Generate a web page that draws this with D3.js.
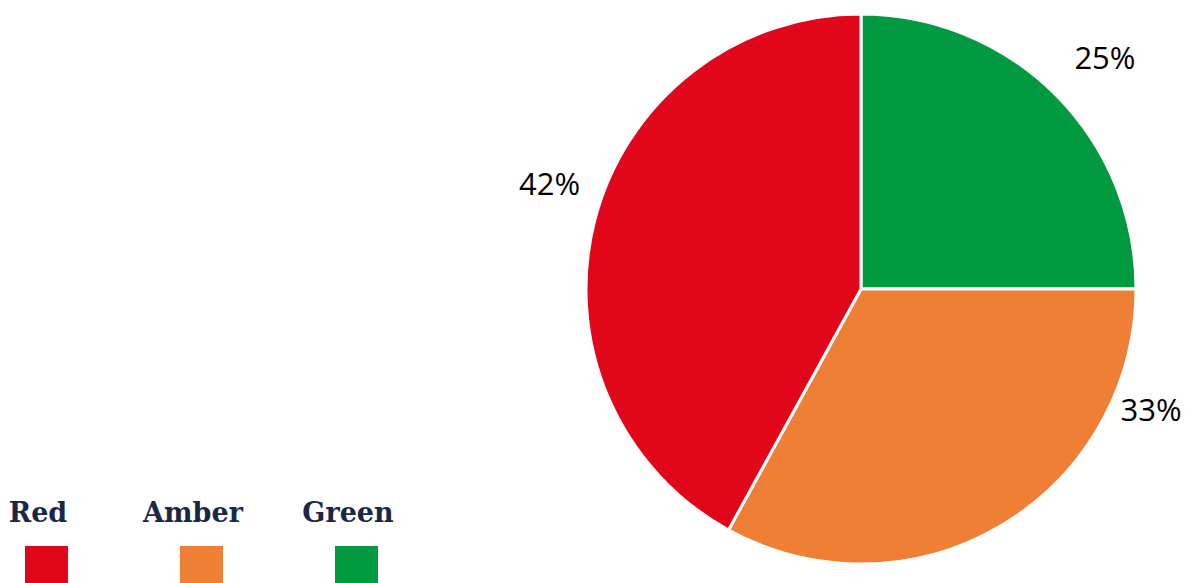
<!DOCTYPE html>
<html>
<head>
<meta charset="utf-8">
<script src="https://cdn.jsdelivr.net/npm/d3@7"></script>
<style>
  body { margin: 0; background: #fff; }
</style>
</head>
<body>
<svg width="1185" height="583"></svg>
<script>
const categories = ["Green", "Amber", "Red"];
const values = [25, 33, 42];
const legendOrder = ["Red", "Amber", "Green"];
const colors = { Red: "#e2061a", Amber: "#ee7f34", Green: "#029a40" };

const svg = d3.select("svg"),
    cx = 861, cy = 289, radius = 275;

const data = categories.map((c, i) => ({ name: c, value: values[i] }));

const pie = d3.pie().sort(null).value(d => d.value);
const arc = d3.arc().innerRadius(0).outerRadius(radius);

const g = svg.append("g").attr("transform", `translate(${cx},${cy})`);
const arcs = pie(data);

g.selectAll("path")
    .data(arcs)
    .enter()
    .append("path")
    .attr("d", arc)
    .attr("fill", d => colors[d.data.name])
    .attr("stroke", "#fff")
    .attr("stroke-width", 3);

// labels sit outside the pie, nudged the way the original places them
const nudge = { Green: [0.024, 337], Amber: [-0.644, 314], Red: [0.077, 329] };
const labelAngle = d => (d.startAngle + d.endAngle) / 2 + nudge[d.data.name][0];
g.selectAll("text.pct")
    .data(arcs)
    .enter()
    .append("text")
    .attr("class", "pct")
    .attr("x", d => nudge[d.data.name][1] * Math.sin(labelAngle(d)))
    .attr("y", d => -nudge[d.data.name][1] * Math.cos(labelAngle(d)))
    .attr("text-anchor", "middle")
    .attr("dominant-baseline", "central")
    .style("font-family", "'Open Sans', 'Noto Sans', sans-serif")
    .style("font-size", "31px")
    .attr("fill", "#000")
    .text(d => `${d.data.value}%`);

// legend
const lx = d3.scaleBand().domain(legendOrder).range([0, 465]);
const legend = svg.append("g").attr("transform", "translate(25,0)");
const item = legend.selectAll("g")
    .data(legendOrder)
    .enter()
    .append("g")
    .attr("transform", d => `translate(${lx(d)},0)`);

item.append("rect")
    .attr("x", 0)
    .attr("y", 546)
    .attr("width", 43)
    .attr("height", 40)
    .attr("fill", d => colors[d]);

item.append("text")
    .attr("x", 13)
    .attr("y", 522)
    .attr("text-anchor", "middle")
    .style("font-family", "'DejaVu Serif', serif")
    .style("font-weight", "bold")
    .style("font-size", "27px")
    .attr("fill", "#1b2845")
    .text(d => d);
</script>
</body>
</html>
